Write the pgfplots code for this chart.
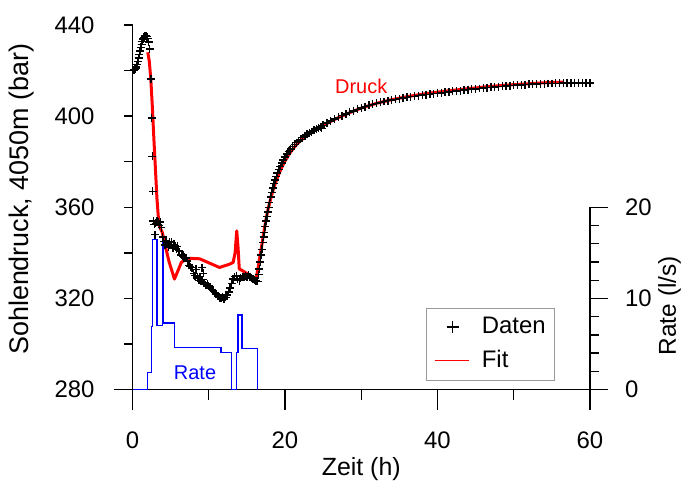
\documentclass[border=0pt]{standalone}
\usepackage{fontspec}
\setmainfont{Liberation Sans}
\usepackage{pgfplots}
\pgfplotsset{compat=1.18}
\pgfplotsset{
  markleg/.style={legend image code/.code={\draw[black, line width=1.4pt, mark=+, mark size=6pt] plot coordinates {(18pt,0pt)}; \path (0pt,0pt) (45pt,0pt);}},
  lineleg/.style={legend image code/.code={\draw[red, line width=1.5pt] (0pt,0pt) -- (34pt,0pt); \path (45pt,0pt);}},
}
\begin{document}
\fontsize{24}{28}\selectfont
\begin{tikzpicture}
\pgfplotsset{
  common/.style={scale only axis, width=459pt, height=366pt, at={(0,0)}, anchor=south west,
    xmin=0, xmax=60, clip=false,
    /pgf/number format/assume math mode=true, tick align=outside,
    axis line style={line width=1.4pt, black}, tick style={line width=1.4pt, black},
    every tick label/.append style={font=\fontsize{24}{28}\selectfont}},
}
\path (-133pt,-91pt) rectangle (556pt,391pt);
% x axis
\begin{axis}[common, ymin=280, ymax=440, axis x line*=bottom, hide y axis,
  xtick={0,20,40,60}, minor xtick={10,30,50},
  major tick length=20pt, minor tick length=10pt,
  x axis line style={shorten <=-19pt, shorten >=-17pt},
  xticklabel style={yshift=-14pt},
  xlabel={Zeit (h)}, xlabel style={at={(axis description cs:0.5,-0.235)}, anchor=base, font=\fontsize{25}{29}\selectfont}]
\end{axis}
% rate axis
\begin{axis}[common, ymin=0, ymax=40, hide x axis, axis y line*=right,
  ytick={0,10,20}, minor ytick={2,4,6,8,12,14,16,18},
  major tick length=18pt, minor tick length=9pt,
  y axis line style={shorten >=183pt},
  yticklabel style={xshift=9pt}]
\addplot[blue, line width=1.3pt, const plot] coordinates {
(0,0) (2.0,1.9) (2.45,6.9) (2.66,16.5) (3.2,7.0) (3.9,16.5) (4.1,7.3) (5.5,4.6)
(11.6,4.1) (13.0,0) (13.65,4.1) (13.85,8.2) (14.35,4.5) (16.35,0)};
\node[blue, font=\fontsize{20}{24}\selectfont] at (axis cs:8.2,1.83) {Rate};
\node[rotate=90, font=\fontsize{24.5}{28}\selectfont] at ([xshift=80pt]axis cs:60,9.2) {Rate (l/s)};
\end{axis}
% main pressure axis
\begin{axis}[common, ymin=280, ymax=440, hide x axis, axis y line*=left,
  ytick={280,320,360,400,440}, minor ytick={300,340,380,420},
  major tick length=9pt, minor tick length=9pt,
  y axis line style={shorten <=-9pt},
  yticklabel style={xshift=-21pt},
  ylabel={Sohlendruck, 4050m (bar)},
  ylabel style={at={(axis description cs:-0.2418,0.522)}, anchor=center, font=\fontsize{27}{31}\selectfont},
  legend style={at={(rel axis cs:0.9237,0.0254)}, anchor=south east, draw=gray!80, line width=0.8pt,
    font=\fontsize{24}{28}\selectfont, row sep=9pt, inner xsep=7pt, inner ysep=7pt},
  legend cell align=left]
\addlegendimage{markleg}
\addlegendentry{Daten}
\addlegendimage{lineleg}
\addlegendentry{Fit}
\addplot[red, line width=3pt, line join=round, forget plot] coordinates {
(2.0,428) (2.2,424) (2.4,416) (2.6,404) (2.8,390) (3.0,377) (3.2,364) (3.4,355) (3.6,351)
(3.9,349) (4.3,343) (4.8,336) (5.5,328.5) (6.0,332.5) (6.4,335.8) (7.0,337.2) (7.5,337.6)
(8.8,337.4) (9.9,335.8) (11.4,333.6) (12.7,335) (13.2,335.8) (13.45,340) (13.67,349.6)
(13.85,342) (14.0,333) (15.0,331) (16.2,328.5) (16.5,334) (16.87,341.6) (17.2,348.5)
(17.5,354.5) (17.8,359.5) (18.2,364.8) (18.6,369.3) (19.0,373) (19.5,377) (20.0,380.3)
(20.6,383.6) (21.2,386.3) (21.9,388.8) (22.6,390.8) (23.4,392.7) (24.2,394.3) (25.0,395.8)
(26,397.7) (27,399.3) (28,400.8) (29,402.2) (30,403.5) (32,405.6) (34,407.2) (36,408.5)
(38,409.6) (40,410.5) (42,411.3) (44,412) (46,412.7) (48,413.3) (50,413.8) (52,414.2)
(54,414.6) (56.6,414.9)};
\addplot[only marks, mark=+, mark size=4pt, line width=1.4pt, black, forget plot] coordinates {
(0,420) (0.1,420.1) (0.2,420.3) (0.3,420.5) (0.4,420.8) (0.5,421.5) (0.6,422.6) (0.7,424)
(0.8,425.5) (0.9,427) (1.0,428.6) (1.1,430.1) (1.2,431.5) (1.3,432.8) (1.4,433.8) (1.5,434.6)
(1.6,435.1) (1.7,435.3) (1.8,435.2) (1.9,434.8) (2.0,434) (2.1,432.5) (2.25,429.5)
(2.4,416.3) (2.5,399.2) (2.58,382.4) (2.65,367) (2.72,354)
(2.85,352.5) (2.95,348) (3.05,353) (3.2,354.2) (3.35,353.5) (3.5,352) (3.65,353.6) (3.8,351)
(3.95,347) (4.1,345) (4.25,343.5) (4.4,345.5) (4.55,344) (4.7,342.5) (4.85,344.8) (5.0,343.5)
(5.15,344.6) (5.3,342) (5.45,343.8) (5.6,343) (5.75,341.5) (5.9,342.8) (6.05,341) (6.2,340.5)
(6.4,339) (6.6,338.5) (6.8,338) (7.0,337.8) (7.2,336.5) (7.4,334.5) (7.6,334) (7.8,333.5)
(8.0,331) (8.2,330) (8.35,332.8) (8.5,329) (8.7,328) (8.85,329.5) (9.0,327.5) (9.1,333.5)
(9.2,328.2) (9.3,331) (9.4,326.8) (9.6,326) (9.8,326.5) (10.0,325.5) (10.2,324.5) (10.4,324)
(10.6,323.5) (10.8,322.5) (11.0,322) (11.2,321) (11.4,320.3) (11.6,320) (11.8,320.8)
(12.0,319.8) (12.2,320.5) (12.4,321.5) (12.6,322.8) (12.8,324.5) (13.0,326.5) (13.2,328.5)
(13.4,329.5) (13.6,330) (13.8,328.5) (14.0,327.8) (14.2,328.8) (14.4,329.5) (14.6,329.2)
(14.8,330) (15.0,329.5) (15.2,330.2) (15.4,329.5) (15.6,329) (15.8,328.5) (16.0,328.3)
(16.2,327.8) (16.4,327.5)
(16.55,330.5) (16.65,333) (16.75,336) (16.87,339) (16.97,341.6) (17.08,344.5) (17.2,347)
(17.3,349) (17.4,351.5) (17.5,354) (17.62,356) (17.73,358) (17.85,360) (17.95,362)
(18.1,364.5) (18.25,366.5) (18.4,368.5) (18.55,370.3) (18.7,372) (18.85,373.5) (19.0,375)
(19.2,376.6) (19.4,378) (19.6,379.5) (19.8,380.8) (20.0,382) (20.25,383.3) (20.5,384.5)
(20.75,385.6) (21.0,386.6) (21.25,387.5) (21.5,388.3) (21.75,389.1) (22.0,389.8) (22.3,390.6)
(22.6,391.3) (22.9,392) (23.2,392.6) (23.5,393.2) (23.8,393.8) (24.1,394.3) (24.4,394.8)
(24.7,395.2) (24.8,394.6)
(25.0,396.0) (25.5,397.0) (26.0,397.9) (26.5,398.7) (27.0,399.4) (27.5,400.2) (28.0,400.9)
(28.5,401.6) (29.0,402.3) (29.5,403.0) (30.0,403.6) (30.5,404.2) (31.0,404.7) (31.5,405.2)
(32.0,405.6) (32.5,406.0) (33.0,406.4) (33.5,406.8) (34.0,407.1) (34.5,407.4) (35.0,407.7)
(35.5,408.0) (36.0,408.2) (36.5,408.5) (37.0,408.7) (37.5,409.0) (38.0,409.2) (38.5,409.4)
(39.0,409.6) (39.5,409.8) (40.0,410.0) (40.5,410.2) (41.0,410.4) (41.5,410.6) (42.0,410.8)
(42.5,411.0) (43.0,411.2) (43.5,411.4) (44.0,411.6) (44.5,411.8) (45.0,411.9) (45.5,412.1)
(46.0,412.3) (46.5,412.5) (47.0,412.6) (47.5,412.8) (48.0,412.9) (48.5,413.1) (49.0,413.2)
(49.5,413.4) (50.0,413.5) (50.5,413.6) (51.0,413.7) (51.5,413.8) (52.0,413.9) (52.5,414.0)
(53.0,414.1) (53.5,414.2) (54.0,414.2) (54.5,414.3) (55.0,414.3) (55.5,414.4) (56.0,414.4)
(56.5,414.5) (57.0,414.5) (57.5,414.5) (58.0,414.5) (58.5,414.6) (59.0,414.6) (59.5,414.6)
(60.0,414.6)};
\node[red, font=\fontsize{20}{24}\selectfont] at (axis cs:30,412.9) {Druck};
\end{axis}
\end{tikzpicture}
\end{document}
